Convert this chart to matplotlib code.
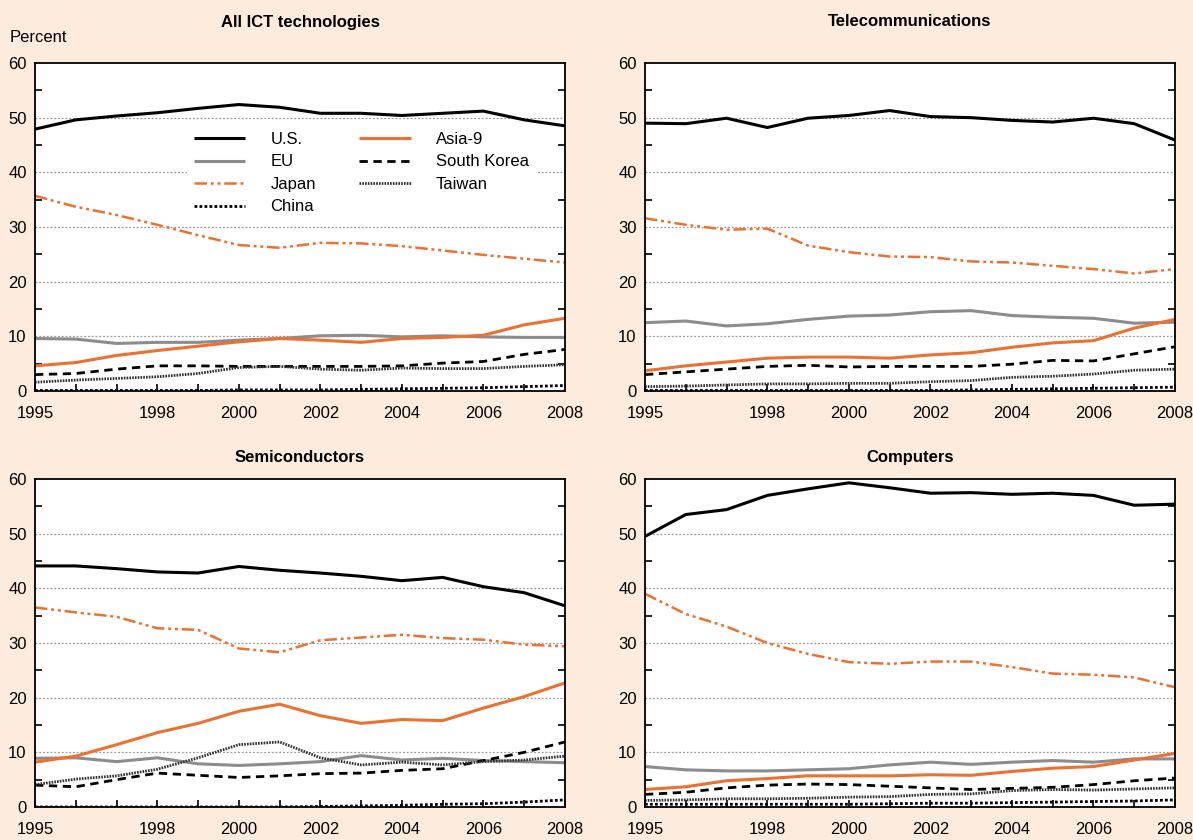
import numpy as np
import matplotlib.pyplot as plt
from matplotlib.ticker import FixedLocator

plt.rcParams['font.family'] = ['Liberation Sans', 'DejaVu Sans']

years = np.arange(1995, 2009)
year_labels = [1995, 1998, 2000, 2002, 2004, 2006, 2008]
series_names = ["U.S.", "EU", "Japan", "China", "Asia-9", "South Korea", "Taiwan"]

# All ICT technologies
ict_us = [47.9, 49.6, 50.3, 50.9, 51.7, 52.4, 51.9, 50.8, 50.8, 50.4, 50.8, 51.2, 49.6, 48.5]
ict_eu = [9.6, 9.5, 8.7, 8.9, 8.9, 9.3, 9.6, 10.1, 10.2, 9.9, 10.1, 9.9, 9.8, 9.8]
ict_japan = [35.7, 33.7, 32.2, 30.4, 28.5, 26.7, 26.2, 27.1, 27.0, 26.5, 25.7, 24.9, 24.2, 23.5]
ict_china = [0.1, 0.1, 0.1, 0.1, 0.1, 0.2, 0.2, 0.2, 0.3, 0.4, 0.5, 0.6, 0.8, 1.0]
ict_asia9 = [4.6, 5.2, 6.5, 7.4, 8.2, 9.0, 9.6, 9.3, 8.9, 9.6, 9.8, 10.2, 12.1, 13.3]
ict_korea = [3.0, 3.2, 4.0, 4.6, 4.6, 4.5, 4.5, 4.5, 4.5, 4.6, 5.1, 5.4, 6.7, 7.6]
ict_taiwan = [1.6, 2.0, 2.3, 2.6, 3.2, 4.3, 4.5, 4.0, 3.8, 4.2, 4.1, 4.1, 4.5, 4.8]

# Telecommunications
tel_us = [49.0, 48.9, 49.9, 48.2, 49.9, 50.4, 51.3, 50.2, 50.0, 49.5, 49.2, 49.9, 48.9, 45.9]
tel_eu = [12.5, 12.8, 11.9, 12.3, 13.1, 13.7, 13.9, 14.5, 14.7, 13.8, 13.5, 13.3, 12.4, 12.6]
tel_japan = [31.6, 30.4, 29.5, 29.7, 26.6, 25.4, 24.6, 24.5, 23.7, 23.5, 22.9, 22.3, 21.5, 22.3]
tel_china = [0.1, 0.1, 0.1, 0.1, 0.1, 0.1, 0.1, 0.1, 0.2, 0.3, 0.4, 0.5, 0.6, 0.7]
tel_asia9 = [3.7, 4.6, 5.3, 6.0, 6.2, 6.2, 6.0, 6.6, 7.0, 8.0, 8.8, 9.2, 11.5, 13.1]
tel_korea = [3.0, 3.5, 4.0, 4.5, 4.7, 4.4, 4.5, 4.5, 4.5, 4.9, 5.6, 5.5, 6.8, 8.1]
tel_taiwan = [0.8, 0.9, 1.1, 1.3, 1.3, 1.4, 1.4, 1.7, 1.9, 2.5, 2.7, 3.1, 3.8, 4.0]

# Semiconductors
sem_us = [44.1, 44.1, 43.6, 43.0, 42.8, 44.0, 43.3, 42.8, 42.2, 41.4, 42.0, 40.3, 39.2, 36.8]
sem_eu = [8.9, 9.0, 8.3, 9.0, 7.9, 7.6, 7.9, 8.3, 9.4, 8.6, 8.9, 8.5, 8.3, 8.1]
sem_japan = [36.5, 35.6, 34.8, 32.7, 32.4, 29.0, 28.3, 30.5, 31.0, 31.5, 30.9, 30.6, 29.7, 29.4]
sem_china = [0.0, 0.0, 0.0, 0.0, 0.0, 0.0, 0.0, 0.1, 0.2, 0.3, 0.5, 0.6, 0.9, 1.3]
sem_asia9 = [8.2, 9.3, 11.4, 13.6, 15.3, 17.5, 18.8, 16.7, 15.3, 16.0, 15.8, 18.1, 20.2, 22.7]
sem_korea = [4.0, 3.7, 5.0, 6.2, 5.8, 5.4, 5.7, 6.1, 6.2, 6.7, 7.0, 8.5, 10.0, 11.9]
sem_taiwan = [4.1, 5.1, 5.7, 6.9, 9.0, 11.4, 11.9, 9.0, 7.7, 8.2, 7.7, 8.3, 8.6, 9.3]

# Computers
com_us = [49.5, 53.5, 54.4, 57.0, 58.2, 59.3, 58.4, 57.4, 57.5, 57.2, 57.4, 57.0, 55.2, 55.4]
com_eu = [7.4, 6.8, 6.6, 6.6, 6.8, 7.0, 7.7, 8.2, 7.8, 8.2, 8.5, 8.2, 8.8, 8.8]
com_japan = [39.0, 35.3, 33.0, 30.0, 28.0, 26.5, 26.2, 26.6, 26.6, 25.6, 24.4, 24.2, 23.7, 21.9]
com_china = [0.5, 0.5, 0.5, 0.5, 0.5, 0.5, 0.6, 0.7, 0.7, 0.8, 0.9, 1.0, 1.1, 1.3]
com_asia9 = [3.2, 3.7, 4.8, 5.2, 5.7, 5.7, 5.7, 5.9, 5.8, 6.5, 7.1, 7.4, 8.6, 9.8]
com_korea = [2.3, 2.7, 3.5, 4.0, 4.2, 4.1, 3.8, 3.5, 3.2, 3.4, 3.6, 4.1, 4.8, 5.3]
com_taiwan = [1.2, 1.3, 1.5, 1.5, 1.6, 1.8, 1.9, 2.3, 2.4, 3.0, 3.2, 3.1, 3.3, 3.5]

panels = [
    ("All ICT technologies", [ict_us, ict_eu, ict_japan, ict_china, ict_asia9, ict_korea, ict_taiwan]),
    ("Telecommunications", [tel_us, tel_eu, tel_japan, tel_china, tel_asia9, tel_korea, tel_taiwan]),
    ("Semiconductors", [sem_us, sem_eu, sem_japan, sem_china, sem_asia9, sem_korea, sem_taiwan]),
    ("Computers", [com_us, com_eu, com_japan, com_china, com_asia9, com_korea, com_taiwan]),
]

bg = "#fdebdd"
orange = "#ec7030"
styles = [
    dict(color="black", lw=2.2, ls="-"),
    dict(color="#8c8c8c", lw=2.2, ls="-"),
    dict(color=orange, lw=1.8, ls=(0, (5, 1.5, 1.2, 1.5, 1.2, 1.5))),
    dict(color="black", lw=2.0, ls=(0, (1, 0.8))),
    dict(color=orange, lw=2.2, ls="-"),
    dict(color="black", lw=2.0, ls=(0, (3, 2))),
    dict(color="#333333", lw=2.0, ls=(0, (0.6, 0.4))),
]

W, H = 1193, 840
fig = plt.figure(figsize=(W / 100, H / 100), dpi=100, facecolor=bg)

# axes boxes in pixels: left, top, right, bottom
boxes = [(35, 63, 565, 391), (645, 63, 1175, 391), (35, 479, 565, 807), (645, 479, 1175, 807)]
title_y = [22, 22, 458, 458]

for i, (title, data) in enumerate(panels):
    l, t, r, b = boxes[i]
    ax = fig.add_axes([l / W, 1 - b / H, (r - l) / W, (b - t) / H])
    ax.set_facecolor("white")
    for name, vals, st in zip(series_names, data, styles):
        ax.plot(years, vals, label=name, solid_capstyle="butt", **st)
    ax.set_xlim(1995, 2008)
    ax.set_ylim(0, 60)
    ax.set_yticks(np.arange(0, 61, 10))
    ax.yaxis.set_minor_locator(FixedLocator(np.arange(5, 60, 10)))
    ax.set_xticks(year_labels)
    ax.xaxis.set_minor_locator(FixedLocator(years[1:-1]))
    ax.tick_params(axis="y", which="major", length=0, labelsize=12, pad=6)
    ax.tick_params(axis="y", which="minor", direction="in", length=5, width=1.2, left=True, right=True)
    ax.tick_params(axis="x", which="major", direction="in", length=5, width=1.2, labelsize=12, pad=11)
    ax.tick_params(axis="x", which="minor", direction="in", length=5, width=1.2)
    for yv in range(10, 60, 10):
        ax.axhline(yv, color="#999999", lw=0.9, ls=(0, (1.5, 1.5)), zorder=0.5)
    for s in ax.spines.values():
        s.set_linewidth(1.3)
    fig.text((l + r) / 2 / W, 1 - title_y[i] / H, title, ha="center", va="center",
             fontsize=12, fontweight="bold")
    if i == 0:
        leg = ax.legend(ncol=2, loc="upper left", bbox_to_anchor=(0.287, 0.81),
                        fontsize=12, frameon=True, fancybox=False, framealpha=1,
                        handlelength=3.1, handletextpad=1.5, columnspacing=2.6,
                        labelspacing=0.45, borderpad=0.4, borderaxespad=0)
        leg.get_frame().set_edgecolor("none")
        leg.get_frame().set_facecolor("white")

fig.text(10 / W, 1 - 37 / H, "Percent", ha="left", va="center", fontsize=12)

fig.savefig("out.png", dpi=100, facecolor=bg)
